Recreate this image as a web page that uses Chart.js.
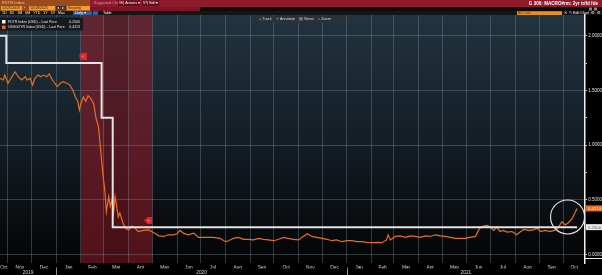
<!DOCTYPE html>
<html><head><meta charset="utf-8">
<script src="https://cdn.jsdelivr.net/npm/chart.js@4.4.1/dist/chart.umd.min.js"></script>
<style>html,body{margin:0;padding:0;background:#000;overflow:hidden}canvas{display:block}</style>
</head><body>
<canvas id="c" width="602" height="275"></canvas>
<script>
// ---------- DATA ----------
const axisStart = '2019-10-22';
const axisEnd = '2021-10-28';
const recessionStart = '2020-02-01';
const recessionEnd = '2020-05-01';

const fdtrDates = ['2019-10-22','2019-10-30','2020-02-27','2020-03-12','2021-10-18'];
const fdtrValues = [2.00, 1.75, 1.25, 0.25, 0.25];
const fdtrLast = 0.2500;

const usgg2yrDates = [
'2019-10-22','2019-10-26','2019-10-28','2019-11-01','2019-11-06','2019-11-10','2019-11-14','2019-11-18','2019-11-23','2019-11-25','2019-11-29',
'2019-12-02','2019-12-05','2019-12-09','2019-12-12','2019-12-16','2019-12-20','2019-12-23','2019-12-27','2019-12-30',
'2020-01-02','2020-01-06','2020-01-10','2020-01-14','2020-01-18','2020-01-22','2020-01-25','2020-01-28','2020-01-30',
'2020-02-01','2020-02-04','2020-02-07','2020-02-10','2020-02-13','2020-02-17','2020-02-20','2020-02-23','2020-02-25','2020-02-27','2020-02-29',
'2020-03-02','2020-03-04','2020-03-07','2020-03-09','2020-03-11','2020-03-13','2020-03-15','2020-03-17','2020-03-19','2020-03-21','2020-03-25','2020-03-28',
'2020-04-01','2020-04-05','2020-04-09','2020-04-13','2020-04-20','2020-04-26','2020-04-30',
'2020-05-04','2020-05-09','2020-05-15','2020-05-21','2020-05-27',
'2020-06-01','2020-06-05','2020-06-09','2020-06-15','2020-06-22','2020-06-28',
'2020-07-04','2020-07-11','2020-07-17','2020-07-25',
'2020-08-01','2020-08-05','2020-08-11','2020-08-17','2020-08-24','2020-08-30',
'2020-09-05','2020-09-12','2020-09-18','2020-09-24',
'2020-10-01','2020-10-07','2020-10-13','2020-10-19','2020-10-26',
'2020-11-01','2020-11-07','2020-11-12','2020-11-18','2020-11-24',
'2020-12-01','2020-12-07','2020-12-13','2020-12-19','2020-12-26',
'2021-01-01','2021-01-07','2021-01-14','2021-01-20','2021-01-26',
'2021-02-02','2021-02-08','2021-02-14','2021-02-20','2021-02-22','2021-02-25',
'2021-03-03','2021-03-09','2021-03-16','2021-03-22','2021-03-28',
'2021-04-03','2021-04-10','2021-04-16','2021-04-22','2021-04-29',
'2021-05-05','2021-05-11','2021-05-18','2021-05-24','2021-05-30',
'2021-06-05','2021-06-12','2021-06-16','2021-06-19','2021-06-22','2021-06-27',
'2021-07-01','2021-07-05','2021-07-09','2021-07-13','2021-07-17','2021-07-22','2021-07-28',
'2021-08-03','2021-08-08','2021-08-12','2021-08-18','2021-08-24','2021-08-29',
'2021-09-02','2021-09-08','2021-09-14','2021-09-21','2021-09-25','2021-09-29',
'2021-10-03','2021-10-07','2021-10-12','2021-10-14','2021-10-18'];
const usgg2yrValues = [
1.61,1.595,1.64,1.565,1.625,1.67,1.625,1.595,1.625,1.595,1.61,
1.55,1.61,1.64,1.625,1.64,1.625,1.65,1.595,1.565,
1.535,1.565,1.58,1.565,1.55,1.50,1.44,1.40,1.32,
1.38,1.44,1.40,1.45,1.43,1.38,1.245,1.17,1.02,0.865,0.71,
0.59,0.39,0.53,0.44,0.50,0.38,0.53,0.44,0.345,0.38,0.285,0.24,
0.225,0.26,0.245,0.21,0.22,0.225,0.21,
0.195,0.17,0.165,0.18,0.18,
0.19,0.22,0.195,0.18,0.195,0.157,
0.157,0.157,0.157,0.148,
0.117,0.126,0.148,0.157,0.139,0.139,
0.133,0.148,0.139,0.133,
0.126,0.139,0.157,0.148,0.139,
0.133,0.165,0.19,0.165,0.157,
0.148,0.139,0.126,0.133,0.117,
0.126,0.126,0.117,0.117,0.111,
0.108,0.111,0.108,0.133,0.18,0.133,
0.165,0.17,0.157,0.17,0.165,
0.157,0.17,0.165,0.18,0.17,
0.165,0.157,0.148,0.148,0.148,
0.157,0.165,0.225,0.25,0.26,0.267,
0.25,0.22,0.25,0.21,0.22,0.205,0.21,
0.18,0.21,0.23,0.22,0.225,0.24,
0.21,0.22,0.21,0.225,0.255,0.30,
0.27,0.29,0.33,0.36,0.4213];
const usggLast = 0.4213;

const eventDates = ['2020-02-03','2020-04-26'];
const eventValues = [1.813, 0.311];

const circleDate = '2021-10-06';
const circleValue = 0.343;

const monthTickLabels = ['Oct','Nov','Dec','Jan','Feb','Mar','Apr','May','Jun','Jul','Aug','Sep','Oct','Nov','Dec','Jan','Feb','Mar','Apr','May','Jun','Jul','Aug','Sep','Oct'];
const yearTickLabels = ['2019','2020','2021'];
const yTickValues = [0, 0.25, 0.5, 0.75, 1.0, 1.25, 1.5, 1.75, 2.0];

// ---------- HELPERS ----------
const START = (function(){const [y,m,d]=axisStart.split('-').map(Number);return Date.UTC(y,m-1,d);})();
function dayOf(s){const [y,m,d]=s.split('-').map(Number);return Math.round((Date.UTC(y,m-1,d)-START)/864e5);}
const XMAX = dayOf(axisEnd);
const monthStartDays = [];
for (let k=0;k<26;k++){ monthStartDays.push(Math.round((Date.UTC(2019,9+k,1)-START)/864e5)); }
const monthLabelPos = [];
for (let k=0;k<25;k++){ const a=Math.max(monthStartDays[k],0), b=Math.min(monthStartDays[k+1],XMAX); monthLabelPos.push((a+b)/2); }
const yearBounds = [0, dayOf('2020-01-01'), dayOf('2021-01-01'), XMAX];
const yearLabelPos = [0,1,2].map(i=>(yearBounds[i]+yearBounds[i+1])/2);
const isMajor = v => Math.abs(v*2-Math.round(v*2))<1e-9;
const FONT = '"Liberation Sans", Arial, sans-serif';
const noPad = s => { s.paddingLeft=0; s.paddingRight=0; s.paddingTop=0; s.paddingBottom=0; };

const flag = document.createElement('canvas'); flag.width=8; flag.height=7;
(function(){const f=flag.getContext('2d');f.fillStyle='#e3262e';f.beginPath();f.moveTo(0,3.5);f.lineTo(3,0);f.lineTo(8,0);f.lineTo(8,7);f.lineTo(3,7);f.closePath();f.fill();f.fillStyle='#ffd0d0';f.fillRect(3.5,3,1.2,1.2);})();

// ---------- PLUGINS ----------
const bgPlugin = {
  id:'bg',
  beforeDraw(chart){
    const {ctx, chartArea:a} = chart;
    ctx.save();
    ctx.fillStyle='#000'; ctx.fillRect(0,0,chart.width,chart.height);
    const g = ctx.createLinearGradient(0,a.top,0,a.bottom);
    g.addColorStop(0,'#223440'); g.addColorStop(0.5,'#141e26'); g.addColorStop(1,'#030405');
    ctx.fillStyle=g; ctx.fillRect(a.left,a.top,a.right-a.left,a.bottom-a.top);
    const xs = chart.scales.x;
    const x0 = xs.getPixelForValue(dayOf(recessionStart)), x1 = xs.getPixelForValue(dayOf(recessionEnd));
    ctx.fillStyle='rgba(150,28,42,0.55)'; ctx.fillRect(x0,a.top,x1-x0,a.bottom-a.top);
    const m0 = xs.getPixelForValue(dayOf('2020-03-01')), m1 = xs.getPixelForValue(dayOf('2020-04-01'));
    ctx.fillStyle='rgba(0,0,0,0.13)'; ctx.fillRect(m0,a.top,m1-m0,a.bottom-a.top);

    // header
    ctx.textBaseline='middle';
    ctx.fillStyle='#8e1a2c'; ctx.fillRect(0,0,602,7);
    ctx.fillStyle='#7c1626'; ctx.fillRect(90,7,110,4);
    ctx.fillStyle='#0c0c0c'; ctx.fillRect(200,7,402,4);
    ctx.fillStyle='#9a4a1c'; ctx.fillRect(0,0,90,11);
    ctx.fillStyle='#161616'; ctx.fillRect(0,11,602,4);
    ctx.font='4.2px '+FONT; ctx.textAlign='left';
    ctx.fillStyle='#f3c8a0'; ctx.fillText('FDTR Index',2,2.8);
    ctx.fillStyle='#f0a02a'; ctx.fillRect(1,6,21,4.3); ctx.fillRect(29,6,26,4.3); ctx.fillRect(67,6,23,4.3);
    ctx.font='3.6px '+FONT;
    ctx.fillStyle='#2a1a10'; ctx.fillText('10/25/2019',2,8.2); ctx.fillText('10/18/2021',30,8.2); ctx.fillText('Security',68,8.2);
    ctx.fillStyle='#f0d0b0'; ctx.fillText('\u25aa',24,8.2);
    ctx.fillStyle='#333'; ctx.fillRect(56,6,4.5,4.3); ctx.fillRect(61,6,4.5,4.3);
    ctx.fillStyle='#ddd'; ctx.fillText('\u25c2',57,8.2); ctx.fillText('\u25b8',62,8.2);
    ctx.fillStyle='#d59aa2'; ctx.fillText('Suggested Charts',94,3);
    ctx.fillStyle='#5c0d18'; ctx.fillRect(118,0.5,22,5.5); ctx.fillRect(142,0.5,17,5.5);
    ctx.fillStyle='#fff'; ctx.fillText('96) Actions \u25be',119,3.3); ctx.fillText('97) Edit \u25be',143,3.3);
    ctx.font='bold 4.6px '+FONT; ctx.textAlign='right'; ctx.fillStyle='#fff';
    ctx.fillText('G 300: MACRO#rm: 2yr tr/fd fde',598,3.3);
    ctx.font='3.6px '+FONT; ctx.textAlign='left';
    ctx.fillStyle='#888'; ctx.fillRect(589,7.5,3,3); ctx.fillRect(594,7.5,3,3);
    ctx.fillStyle='#eee'; ctx.fillText('1D   3D   1M   6M   YTD   1Y   5Y   Max',2,13.1);
    ctx.fillStyle='#2f63b8'; ctx.fillRect(73,11.3,19,3.6); ctx.fillRect(93,11.3,5,3.6);
    ctx.fillStyle='#fff'; ctx.fillText('Daily \u25be',75,13.1); ctx.fillText('Table',103,13.1);
    ctx.fillStyle='#e8901f'; ctx.fillRect(517,11.2,45,3.8);
    ctx.fillStyle='#6b3a08'; ctx.fillText('Alt Data',518,13.1);
    ctx.fillStyle='#eee'; ctx.fillText('\u2715  \u270e Edit Chart  \u2699  \u2699',564,13.1);
    ctx.restore();
  },
  afterDatasetsDraw(chart){
    const {ctx, chartArea:a} = chart;
    const xs = chart.scales.x, ys = chart.scales.y;
    ctx.save();
    // circle annotation
    ctx.strokeStyle='#e6e6e6'; ctx.lineWidth=1.1;
    ctx.beginPath(); ctx.arc(xs.getPixelForValue(dayOf(circleDate)), ys.getPixelForValue(circleValue), 17, 0, Math.PI*2); ctx.stroke();
    // toolbar
    ctx.fillStyle='rgba(44,50,56,0.95)'; ctx.fillRect(255,16,90,6.5);
    ctx.font='3.8px '+FONT; ctx.textBaseline='middle'; ctx.textAlign='left';
    ctx.fillStyle='#d8d8d8'; ctx.fillText('+ Track    \u2713 Annotate    \u25a4 News    \u2315 Zoom',259,19.3);
    // legend
    ctx.fillStyle='rgba(22,24,26,0.92)'; ctx.fillRect(0,17.5,83,13);
    ctx.fillStyle='#f4f4f4'; ctx.fillRect(2,20,3.5,3.5);
    ctx.fillStyle='#e8701c'; ctx.fillRect(2,25.5,3.5,3.5);
    ctx.font='3.5px '+FONT; ctx.fillStyle='#e8e8e8';
    ctx.fillText('FDTR Index (USD) \u2013 Last Price',8,21.8);
    ctx.fillText('USGG2YR Index (USD) \u2013 Last Price',8,27.3);
    ctx.textAlign='right';
    ctx.fillText(fdtrLast.toFixed(4),80,21.8);
    ctx.fillText(usggLast.toFixed(4),80,27.3);
    // last value boxes
    ctx.textAlign='left'; ctx.font='4.3px '+FONT;
    const yo = ys.getPixelForValue(usggLast), yw = ys.getPixelForValue(fdtrLast);
    ctx.fillStyle='#e8701c'; ctx.fillRect(586,yo-3,16,6);
    ctx.fillStyle='#ffe8d8'; ctx.fillText(usggLast.toFixed(4),588,yo+0.2);
    ctx.fillStyle='#ececec'; ctx.fillRect(586,yw-3,16,6);
    ctx.fillStyle='#555'; ctx.fillText(fdtrLast.toFixed(4),588,yw+0.2);
    // year separators & bottom corner
    ctx.strokeStyle='#8a8a8a'; ctx.lineWidth=1;
    [yearBounds[1],yearBounds[2]].forEach(d=>{const x=Math.round(xs.getPixelForValue(d))+0.5;ctx.beginPath();ctx.moveTo(x,267.5);ctx.lineTo(x,275);ctx.stroke();});
    ctx.strokeStyle='#eee'; ctx.beginPath(); ctx.moveTo(585,258.5); ctx.lineTo(602,258.5); ctx.stroke();
    ctx.restore();
  }
};

// ---------- CHART ----------
new Chart(document.getElementById('c').getContext('2d'), {
  type:'line',
  data:{ datasets:[
    { label:'Events', type:'scatter', data: eventDates.map((d,i)=>({x:dayOf(d), y:eventValues[i]})),
      pointStyle: flag, pointRadius:4, pointHoverRadius:0, order:-1 },
    { label:'FDTR Index (USD) - Last Price', data: fdtrDates.map((d,i)=>({x:dayOf(d), y:fdtrValues[i]})),
      borderColor:'#e4e4e4', borderWidth:2, stepped:'before', pointRadius:0, pointHoverRadius:0, order:0 },
    { label:'USGG2YR Index (USD) - Last Price', data: usgg2yrDates.map((d,i)=>({x:dayOf(d), y:usgg2yrValues[i]})),
      borderColor:'#e86f1c', borderWidth:1.2, pointRadius:0, pointHoverRadius:0, tension:0, order:1 }
  ]},
  options:{
    responsive:false, animation:false, devicePixelRatio:1,
    layout:{ autoPadding:false, padding:{ top:15, left:0, right:0, bottom:0 } },
    plugins:{ legend:{display:false}, tooltip:{enabled:false} },
    scales:{
      x:{ type:'linear', position:'bottom', min:0, max:XMAX, weight:0,
          afterBuildTicks:s=>{ s.ticks = monthStartDays.filter(v=>v>0&&v<XMAX).map(v=>({value:v})); },
          ticks:{ display:false }, grid:{ color:'rgba(125,140,152,0.38)', lineWidth:1, drawTicks:false },
          border:{ display:false }, afterFit:s=>{ s.height=0; noPad(s); } },
      xm:{ type:'linear', position:'bottom', min:0, max:XMAX, weight:1,
          afterBuildTicks:s=>{ s.ticks = monthLabelPos.map(v=>({value:v})); },
          ticks:{ callback:(v,i)=>monthTickLabels[i], autoSkip:false, maxRotation:0, padding:1.3,
                  color:'#d6d6d6', font:{ family:FONT, size:4.8 } },
          grid:{ display:false, drawTicks:false }, border:{ display:false }, afterFit:s=>{ s.height=5.5; noPad(s); } },
      xy:{ type:'linear', position:'bottom', min:0, max:XMAX, weight:2,
          afterBuildTicks:s=>{ s.ticks = yearLabelPos.map(v=>({value:v})); },
          ticks:{ callback:(v,i)=>yearTickLabels[i], autoSkip:false, maxRotation:0, padding:0.8,
                  color:'#d6d6d6', font:{ family:FONT, size:4.8 } },
          grid:{ display:false, drawTicks:false }, border:{ display:false }, afterFit:s=>{ s.height=6.5; noPad(s); } },
      y:{ type:'linear', position:'right', min:-0.0777, max:2.189,
          afterBuildTicks:s=>{ s.ticks = yTickValues.map(v=>({value:v})); },
          ticks:{ callback:v=> isMajor(v) ? v.toFixed(4) : '', autoSkip:false, padding:1.2,
                  color:'#e2e2e2', font:{ family:FONT, size:4.5 } },
          grid:{ color:c=> (c.tick && isMajor(c.tick.value)) ? 'rgba(125,140,152,0.38)' : 'rgba(0,0,0,0)',
                 tickColor:'#d0d0d0', tickLength:2, lineWidth:1 },
          border:{ color:'#f0f0f0', width:1.5 },
          afterFit:s=>{ s.width=17; noPad(s); } }
    }
  },
  plugins:[bgPlugin]
});
</script>
</body></html>
